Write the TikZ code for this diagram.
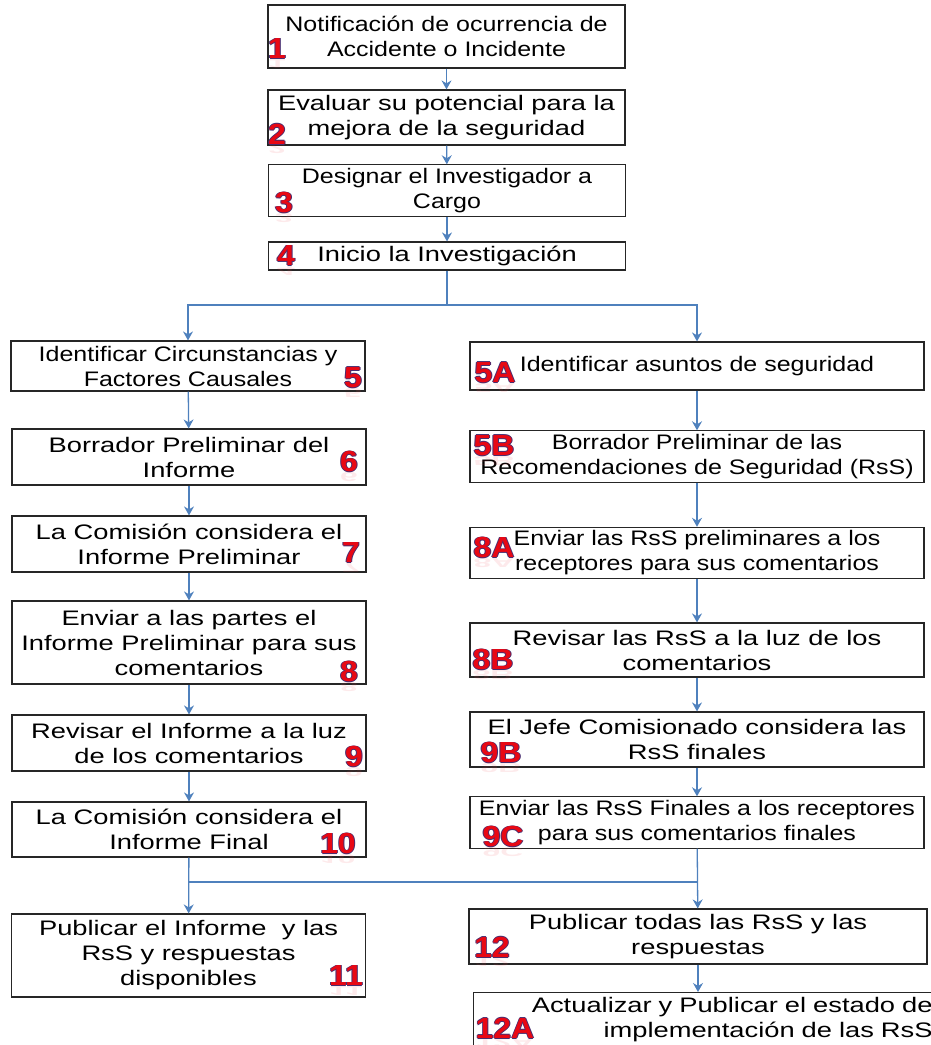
\documentclass[tikz,border=0pt]{standalone}
\usepackage{fontspec}
\setmainfont{Liberation Sans}[FakeStretch=1.3]
\newfontfamily\slimfont{Liberation Sans}[FakeStretch=1.19]
\newfontfamily\tagfont{Liberation Sans}[FakeStretch=1.1]
\usepackage{tikz}
\usetikzlibrary{arrows.meta,positioning,calc}

\definecolor{flowblue}{RGB}{79,129,189}
\definecolor{tagred}{RGB}{232,8,20}
\definecolor{tagrim}{RGB}{72,46,112}

% red number with a dark rim
\newcommand{\rimtext}[1]{%
\makebox[0pt][l]{\color{tagrim}\kern-0.9pt#1}%
\makebox[0pt][l]{\color{tagrim}\kern0.9pt#1}%
\makebox[0pt][l]{\color{tagrim}\raisebox{0.9pt}{#1}}%
\makebox[0pt][l]{\color{tagrim}\raisebox{-0.9pt}{#1}}%
\textcolor{tagred}{#1}}

% number tag: name, x, y, label (plus its faint mirror image)
\newcommand{\steptag}[4]{%
\begin{scope}[shift={(#2,#3+10.5)}]
\node[tagshade,anchor=south,yscale=-0.45,transform shape] (#1s) at (0,0) {#4};
\end{scope}
\node[tagnum] (#1) at (#2,#3) {\rimtext{#4}};}

\tikzset{
stepbox/.style={draw=black!85, line width=1.2pt, fill=white, align=center,
  font=\fontsize{21}{25}\selectfont},
slim/.style={font=\slimfont\fontsize{21}{25}\selectfont},
leftbox/.style={stepbox, minimum width=354},
rightbox/.style={stepbox, minimum width=454},
topbox/.style={stepbox, minimum width=357},
tagnum/.style={inner sep=0pt, font=\tagfont\bfseries\fontsize{29}{29}\selectfont},
tagshade/.style={inner sep=0pt, text=tagred!70, opacity=0.12,
  font=\tagfont\bfseries\fontsize{29}{29}\selectfont},
flow/.style={draw=flowblue, line width=1.3pt, -{Stealth[length=9pt,width=10pt,inset=3pt]}},
link/.style={draw=flowblue, line width=1.3pt}
}

\begin{document}
\begin{tikzpicture}[x=1pt,y=-1pt]
\useasboundingbox (0,0) rectangle (931,1045);
% ==========================================
\node[topbox, slim, minimum height=63] (n1) at (446.5,36.5) {Notificación de ocurrencia de\\Accidente o Incidente};
\node[topbox, minimum height=55] (n2) at (446.5,117.5) {Evaluar su potencial para la\\mejora de la seguridad};
\node[topbox, slim, minimum height=49] (n3) at (447,190.5) {Designar el Investigador a\\Cargo};
\node[topbox, minimum height=28] (n4) at (447,256) {Inicio la Investigación};
%
\node[leftbox, slim, minimum height=50] (n5) at (188,366) {Identificar Circunstancias y\\Factores Causales};
\node[leftbox, minimum height=56] (n6) at (189,457) {Borrador Preliminar del\\Informe};
\node[leftbox, minimum height=56] (n7) at (189,544) {La Comisión considera el\\Informe Preliminar};
\node[leftbox, minimum height=83] (n8) at (189,642.5) {Enviar a las partes el\\Informe Preliminar para sus\\comentarios};
\node[leftbox, minimum height=56] (n9) at (189,743) {Revisar el Informe a la luz\\de los comentarios};
\node[leftbox, minimum height=55] (n10) at (189,829.5) {La Comisión considera el\\Informe Final};
\node[leftbox, minimum height=83] (n11) at (188.5,955.5) {Publicar el Informe\ \ y las\\RsS y respuestas\\disponibles};
%
\node[rightbox, slim, minimum height=48] (n5A) at (697,366) {Identificar asuntos de seguridad};
\node[rightbox, slim, minimum height=51] (n5B) at (697,456.5) {Borrador Preliminar de las\\Recomendaciones de Seguridad (RsS)};
\node[rightbox, slim, minimum height=50] (n8A) at (697,553) {Enviar las RsS preliminares a los\\receptores para sus comentarios};
\node[rightbox, minimum height=54] (n8B) at (697,650) {Revisar las RsS a la luz de los\\comentarios};
\node[rightbox, minimum height=55] (n9B) at (697,739.5) {El Jefe Comisionado considera las\\RsS finales};
\node[rightbox, slim, minimum height=51] (n9C) at (697,822.5) {Enviar las RsS Finales a los receptores\\para sus comentarios finales};
\node[stepbox, minimum width=458, minimum height=55] (n12) at (698,936.5) {Publicar todas las RsS y las\\respuestas};
\node[stepbox, anchor=north west, inner ysep=5pt, inner xsep=4pt, text width=455, align=right] (n12A) at (473,992) {Actualizar y Publicar el estado de\\implementación de las RsS};
% =============================================
\coordinate (fork) at (447,305);
\coordinate (joinL) at (189,882);
\coordinate (joinR) at (697,882);
%
\draw[flow] (n1) -- (n2);
\draw[flow] (n2) -- (n3);
\draw[flow] (n3) -- (n4);
\draw[link] (n4) -- (fork);
\draw[flow] (fork) -| (n5);%Arrow.
\draw[flow] (fork) -| (n5A);%Arrow.
\foreach \a/\b in {n5/n6,n6/n7,n7/n8,n8/n9,n9/n10,n10/n11}
  \draw[flow] (\a) -- (\b);
\foreach \a/\b in {n5A/n5B,n5B/n8A,n8A/n8B,n8B/n9B,n9B/n9C,n9C/n12}
  \draw[flow] (\a) -- (\b);
\draw[link] (joinL) -- (joinR);
\draw[flow] (n12) -- (n12 |- n12A.north);
% =============================================
\steptag{t1}{277}{49}{1}
\steptag{t2}{277}{134}{2}
\steptag{t3}{284}{203}{3}
\steptag{t4}{286}{256}{4}
\steptag{t5}{353}{378}{5}
\steptag{t6}{349}{462}{6}
\steptag{t7}{351}{553}{7}
\steptag{t8}{349}{672}{8}
\steptag{t9}{354}{757}{9}
\steptag{t10}{338}{844}{10}
\steptag{t11}{346}{976}{11}
\steptag{t5A}{495}{373}{5A}
\steptag{t5B}{494}{446}{5B}
\steptag{t8A}{494}{548}{8A}
\steptag{t8B}{493}{660}{8B}
\steptag{t9B}{501}{753}{9B}
\steptag{t9C}{503}{837}{9C}
\steptag{t12}{492}{947}{12}
\steptag{t12A}{505}{1028}{12A}
\end{tikzpicture}
\end{document}
